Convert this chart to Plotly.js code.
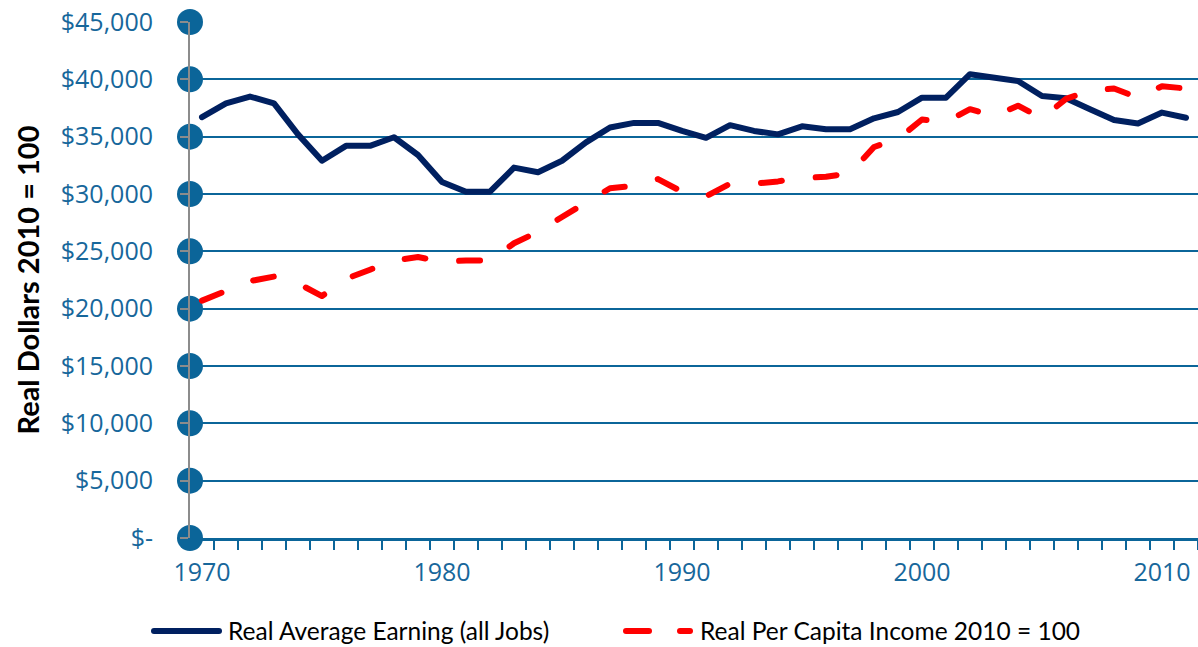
<!DOCTYPE html>
<html>
<head>
<meta charset="utf-8">
<script src="https://cdn.plot.ly/plotly-3.0.1.min.js"></script>
<style>
html,body{margin:0;padding:0;background:#fff;}
#chart{width:1198px;height:647px;}
.scatterlayer .js-line{stroke-linecap:round;stroke-linejoin:round;}
.shapelayer path{stroke-linecap:round;}
</style>
</head>
<body>
<div id="chart"></div>
<script>
// ---- data ----
const years = [1970,1971,1972,1973,1974,1975,1976,1977,1978,1979,
               1980,1981,1982,1983,1984,1985,1986,1987,1988,1989,
               1990,1991,1992,1993,1994,1995,1996,1997,1998,1999,
               2000,2001,2002,2003,2004,2005,2006,2007,2008,2009,
               2010,2011];
const avgEarning = [36700,37900,38500,37900,35200,32900,34200,34200,34950,33400,
                    31050,30200,30200,32300,31900,32900,34500,35800,36200,36200,
                    35500,34900,36000,35500,35200,35900,35650,35650,36600,37150,
                    38400,38400,40450,40200,39850,38550,38350,37400,36450,36150,
                    37100,36650];
const perCapita = [20700,21600,22400,22800,22200,21100,22600,23400,24200,24500,
                   24100,24200,24200,25700,26700,28000,29250,30500,30700,31300,
                   30200,29800,30900,30900,31100,31400,31500,31800,34100,34800,
                   36500,36300,37400,36800,37700,36600,38300,39000,39200,38400,
                   39400,39200];
const seriesNames = ['Real Average Earning (all Jobs)', 'Real Per Capita Income 2010 = 100'];
const yTickVals = [0,5000,10000,15000,20000,25000,30000,35000,40000,45000];
const yTickText = ['$-','$5,000','$10,000','$15,000','$20,000','$25,000','$30,000','$35,000','$40,000','$45,000'];
const xTickVals = [1970,1980,1990,2000,2010];
const yTitle = 'Real Dollars 2010 = 100';

// ---- styling ----
const xMin = 1969.5, xMax = 2011.5;
const axisBlue = '#0B6599';
const labelBlue = '#17679B';
const calib = 'Lato, "Open Sans", sans-serif';

const traces = [
  { // axis dots
    x: yTickVals.map(() => xMin), y: yTickVals,
    type: 'scatter', mode: 'markers',
    marker: {size: 26, color: axisBlue},
    cliponaxis: false, hoverinfo: 'skip', showlegend: false
  },
  {
    x: years, y: avgEarning, name: seriesNames[0],
    type: 'scatter', mode: 'lines',
    line: {color: '#002060', width: 6},
    showlegend: false
  },
  {
    x: years, y: perCapita, name: seriesNames[1],
    type: 'scatter', mode: 'lines',
    line: {color: '#FF0000', width: 6, dash: '21px,34px'},
    showlegend: false
  }
];

function px(p){ return (p - 190) / 1008; }
const legY = (538 - 631) / 516;

const layout = {
  width: 1198, height: 647,
  margin: {l: 190, r: 0, t: 22, b: 109},
  paper_bgcolor: '#fff', plot_bgcolor: '#fff',
  showlegend: false,
  xaxis: {
    range: [xMin, xMax],
    tickvals: xTickVals,
    ticks: '',
    showline: true, linecolor: axisBlue, linewidth: 3,
    showgrid: false, zeroline: false,
    tickfont: {family: '"Open Sans", sans-serif', size: 25, color: labelBlue},
    ticklabelstandoff: 10,
    minor: {ticks: 'outside', tick0: 1969.5, dtick: 1, ticklen: 9, tickwidth: 2, tickcolor: axisBlue, showgrid: false}
  },
  yaxis: {
    range: [0, 45000],
    tickvals: yTickVals, ticktext: yTickText,
    showgrid: true, gridcolor: axisBlue, gridwidth: 2,
    zeroline: false,
    showline: true, linecolor: '#8C8C8C', linewidth: 2,
    ticks: 'outside', ticklen: 8, tickwidth: 2, tickcolor: '#8C8C8C',
    tickfont: {family: '"Open Sans", sans-serif', size: 25, color: labelBlue},
    ticklabelstandoff: 22,
    title: {text: yTitle, font: {family: calib, size: 29, color: '#000', weight: 700}, standoff: 13}
  },
  shapes: [
    {type: 'line', xref: 'paper', yref: 'paper', x0: px(154), x1: px(219), y0: legY, y1: legY,
     line: {color: '#002060', width: 6}},
    {type: 'line', xref: 'paper', yref: 'paper', x0: px(626), x1: px(649), y0: legY, y1: legY,
     line: {color: '#FF0000', width: 6}},
    {type: 'line', xref: 'paper', yref: 'paper', x0: px(680), x1: px(690), y0: legY, y1: legY,
     line: {color: '#FF0000', width: 6}}
  ],
  annotations: [
    {xref: 'paper', yref: 'paper', x: px(227), y: legY, xanchor: 'left', yanchor: 'middle', borderpad: 0,
     text: seriesNames[0], showarrow: false, font: {family: calib, size: 24.5, color: '#000'}},
    {xref: 'paper', yref: 'paper', x: px(699), y: legY, xanchor: 'left', yanchor: 'middle', borderpad: 0,
     text: seriesNames[1], showarrow: false, font: {family: calib, size: 24.5, color: '#000'}}
  ]
};

Plotly.newPlot('chart', traces, layout, {displayModeBar: false, staticPlot: true});
</script>
</body>
</html>
